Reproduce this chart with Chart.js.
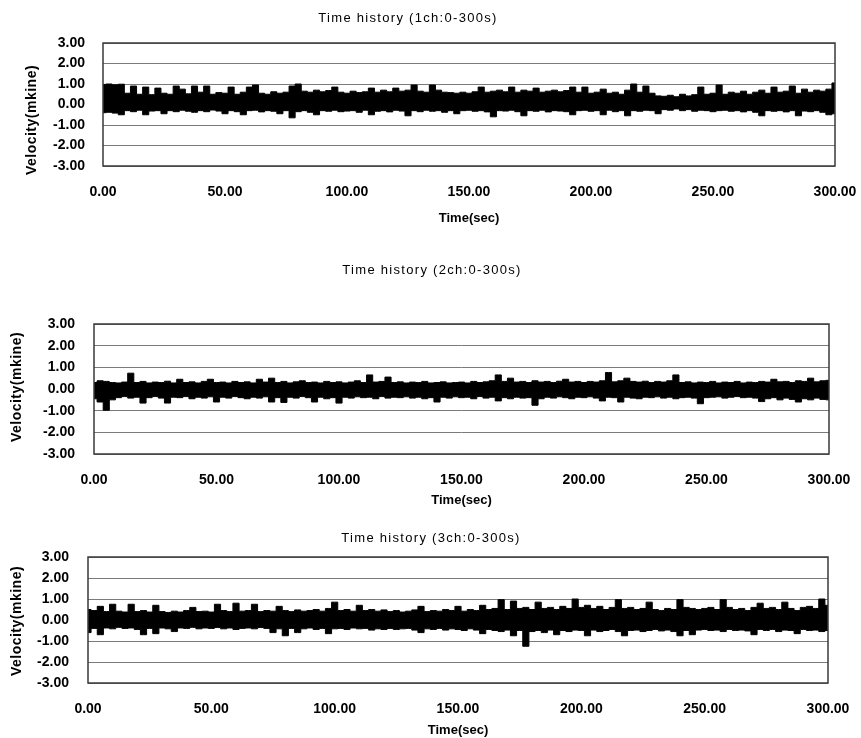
<!DOCTYPE html>
<html><head><meta charset="utf-8">
<script src="https://cdn.jsdelivr.net/npm/chart.js@4.4.0/dist/chart.umd.min.js"></script>
<style>
html,body{margin:0;padding:0;background:#fff;}
#wrap{position:relative;width:861px;height:738px;background:#fff;overflow:hidden;}
canvas{position:absolute;left:0;}
</style></head><body>
<div id="wrap">
<canvas id="c1" width="861" height="240" style="top:0px"></canvas>
<canvas id="c2" width="861" height="270" style="top:240px"></canvas>
<canvas id="c3" width="861" height="228" style="top:510px"></canvas>
</div>
<script>
// ---------- text ----------
const chartTitles = ['Time history (1ch:0-300s)', 'Time history (2ch:0-300s)', 'Time history (3ch:0-300s)'];
const yAxisTitle = 'Velocity(mkine)';
const xAxisTitle = 'Time(sec)';
// ---------- ticks ----------
const xTicks = [0, 50, 100, 150, 200, 250, 300];
const yTicks = [-3, -2, -1, 0, 1, 2, 3];
// ---------- sampling grid (s) ----------
const time = Array.from({length: 121}, (_, i) => i * 2.5);
// ---------- series: local peaks / troughs per 2.5 s window ----------
const ch1Peak = [
 0.98,1.0,0.96,0.99,0.55,0.9,0.5,0.85,0.48,0.8,
 0.55,0.5,0.9,0.75,0.52,0.9,0.6,0.9,0.5,0.58,
 0.55,0.85,0.5,0.6,0.85,0.95,0.55,0.5,0.62,0.55,
 0.6,0.9,1.0,0.65,0.6,0.7,0.62,0.68,0.85,0.6,
 0.55,0.65,0.58,0.62,0.8,0.6,0.7,0.62,0.8,0.65,
 0.7,0.95,0.65,0.6,0.95,0.7,0.6,0.58,0.55,0.6,
 0.55,0.62,0.85,0.6,0.65,0.7,0.62,0.85,0.6,0.7,
 0.65,0.8,0.6,0.65,0.7,0.62,0.68,0.85,0.6,0.85,
 0.55,0.6,0.75,0.55,0.6,0.5,0.7,1.0,0.6,0.9,
 0.55,0.42,0.4,0.45,0.38,0.5,0.42,0.48,0.85,0.5,
 0.55,0.95,0.5,0.6,0.55,0.65,0.5,0.6,0.7,0.55,
 0.85,0.6,0.65,0.9,0.55,0.75,0.6,0.7,0.65,0.75,1.05];
const ch1Trough = [
 -0.4,-0.38,-0.42,-0.5,-0.3,-0.35,-0.28,-0.5,-0.32,-0.3,
 -0.45,-0.3,-0.35,-0.28,-0.33,-0.38,-0.3,-0.35,-0.27,-0.32,
 -0.45,-0.3,-0.35,-0.5,-0.3,-0.28,-0.36,-0.3,-0.33,-0.45,
 -0.3,-0.65,-0.35,-0.3,-0.38,-0.5,-0.3,-0.33,-0.28,-0.35,
 -0.32,-0.3,-0.38,-0.28,-0.5,-0.33,-0.3,-0.36,-0.28,-0.32,
 -0.55,-0.3,-0.35,-0.28,-0.33,-0.3,-0.38,-0.3,-0.45,-0.3,
 -0.28,-0.33,-0.3,-0.36,-0.6,-0.3,-0.32,-0.28,-0.35,-0.55,
 -0.3,-0.33,-0.28,-0.36,-0.3,-0.32,-0.35,-0.5,-0.3,-0.28,
 -0.33,-0.3,-0.5,-0.28,-0.35,-0.3,-0.55,-0.3,-0.33,-0.28,
 -0.3,-0.45,-0.25,-0.28,-0.22,-0.3,-0.25,-0.33,-0.28,-0.3,
 -0.35,-0.3,-0.28,-0.33,-0.3,-0.36,-0.3,-0.38,-0.55,-0.3,
 -0.33,-0.3,-0.36,-0.3,-0.55,-0.32,-0.35,-0.3,-0.38,-0.5,-0.45];
const ch2Peak = [
 0.3,0.38,0.35,0.3,0.28,0.32,0.73,0.3,0.35,0.28,
 0.32,0.3,0.36,0.28,0.45,0.3,0.33,0.28,0.35,0.45,
 0.3,0.32,0.28,0.35,0.3,0.33,0.28,0.45,0.32,0.5,
 0.3,0.35,0.28,0.33,0.38,0.3,0.32,0.28,0.35,0.3,
 0.33,0.28,0.32,0.38,0.3,0.65,0.32,0.35,0.55,0.3,
 0.33,0.28,0.32,0.3,0.35,0.28,0.3,0.33,0.28,0.3,
 0.32,0.28,0.35,0.3,0.33,0.38,0.65,0.35,0.5,0.32,
 0.35,0.3,0.38,0.32,0.35,0.3,0.36,0.45,0.32,0.35,
 0.3,0.35,0.32,0.38,0.76,0.33,0.38,0.5,0.35,0.32,
 0.36,0.3,0.35,0.32,0.38,0.65,0.3,0.33,0.28,0.32,
 0.3,0.35,0.28,0.32,0.3,0.35,0.28,0.32,0.3,0.35,
 0.32,0.45,0.33,0.35,0.3,0.38,0.35,0.5,0.33,0.38,0.4];
const ch2Trough = [
 -0.45,-0.6,-0.98,-0.5,-0.4,-0.35,-0.42,-0.38,-0.65,-0.4,
 -0.35,-0.42,-0.65,-0.38,-0.4,-0.35,-0.45,-0.38,-0.42,-0.36,
 -0.6,-0.38,-0.42,-0.35,-0.4,-0.45,-0.38,-0.42,-0.36,-0.6,
 -0.4,-0.62,-0.38,-0.42,-0.35,-0.4,-0.6,-0.38,-0.45,-0.4,
 -0.65,-0.38,-0.42,-0.36,-0.4,-0.38,-0.45,-0.35,-0.42,-0.38,
 -0.4,-0.36,-0.42,-0.38,-0.45,-0.4,-0.6,-0.38,-0.42,-0.36,
 -0.4,-0.38,-0.45,-0.35,-0.42,-0.38,-0.55,-0.4,-0.45,-0.38,
 -0.42,-0.4,-0.75,-0.45,-0.38,-0.42,-0.36,-0.4,-0.45,-0.38,
 -0.4,-0.36,-0.42,-0.55,-0.38,-0.4,-0.6,-0.38,-0.42,-0.45,
 -0.38,-0.4,-0.36,-0.42,-0.38,-0.45,-0.4,-0.38,-0.42,-0.68,
 -0.4,-0.38,-0.36,-0.42,-0.38,-0.35,-0.4,-0.38,-0.42,-0.58,
 -0.45,-0.4,-0.5,-0.42,-0.48,-0.6,-0.45,-0.5,-0.42,-0.48,-0.5];
const ch3Peak = [
 0.5,0.45,0.65,0.4,0.75,0.42,0.38,0.75,0.4,0.45,
 0.38,0.7,0.4,0.36,0.42,0.38,0.45,0.6,0.4,0.42,
 0.38,0.75,0.45,0.4,0.8,0.42,0.45,0.75,0.4,0.45,
 0.42,0.65,0.45,0.4,0.48,0.42,0.45,0.5,0.42,0.55,
 0.85,0.45,0.5,0.42,0.7,0.45,0.5,0.42,0.48,0.4,
 0.45,0.38,0.42,0.48,0.65,0.4,0.45,0.42,0.5,0.45,
 0.65,0.42,0.5,0.45,0.7,0.5,0.55,0.97,0.5,0.9,
 0.55,0.6,0.5,0.85,0.55,0.6,0.5,0.65,0.55,1.0,
 0.6,0.7,0.55,0.65,0.5,0.6,0.97,0.55,0.6,0.5,
 0.55,0.85,0.5,0.45,0.55,0.5,0.97,0.6,0.55,0.5,
 0.55,0.6,0.5,0.97,0.6,0.5,0.55,0.45,0.6,0.8,
 0.55,0.6,0.5,0.85,0.55,0.45,0.6,0.65,0.55,1.0,0.7];
const ch3Trough = [
 -0.6,-0.4,-0.7,-0.38,-0.42,-0.35,-0.4,-0.38,-0.45,-0.7,
 -0.4,-0.65,-0.38,-0.42,-0.55,-0.38,-0.4,-0.35,-0.42,-0.38,
 -0.4,-0.36,-0.42,-0.38,-0.45,-0.4,-0.38,-0.42,-0.36,-0.4,
 -0.6,-0.42,-0.75,-0.4,-0.6,-0.42,-0.38,-0.45,-0.4,-0.65,
 -0.42,-0.4,-0.45,-0.38,-0.42,-0.4,-0.48,-0.42,-0.45,-0.4,
 -0.45,-0.42,-0.4,-0.48,-0.6,-0.42,-0.45,-0.4,-0.48,-0.42,
 -0.45,-0.5,-0.42,-0.48,-0.65,-0.45,-0.5,-0.55,-0.48,-0.75,
 -0.5,-1.25,-0.55,-0.5,-0.6,-0.48,-0.7,-0.5,-0.55,-0.48,
 -0.5,-0.75,-0.48,-0.55,-0.5,-0.45,-0.55,-0.75,-0.5,-0.48,
 -0.55,-0.5,-0.45,-0.52,-0.48,-0.55,-0.75,-0.5,-0.7,-0.48,
 -0.45,-0.5,-0.48,-0.55,-0.45,-0.5,-0.48,-0.52,-0.7,-0.45,
 -0.5,-0.45,-0.55,-0.48,-0.5,-0.65,-0.45,-0.5,-0.48,-0.55,-0.5];

// ---------- layout (canvas-local pixel positions) ----------
const layouts = [
  {id:'c1', h:240, left:103, right:835, top:43, bottom:166, titleX:408, titleY:18, yTitleX:32, yTitleY:120, xTitleY:218, yTickPad:18},
  {id:'c2', h:270, left:94, right:829, top:84, bottom:214, titleX:432, titleY:30, yTitleX:17, yTitleY:147, xTitleY:260, yTickPad:19},
  {id:'c3', h:228, left:88, right:828, top:47, bottom:173, titleX:431, titleY:28, yTitleX:17, yTitleY:111, xTitleY:220, yTickPad:19}
];
const series = [[ch1Peak, ch1Trough], [ch2Peak, ch2Trough], [ch3Peak, ch3Trough]];

const textPlugin = {
  id: 'textPlugin',
  afterDraw(chart, args, opts) {
    const ctx = chart.ctx, L = opts.L, a = chart.chartArea;
    ctx.save();
    ctx.strokeStyle = '#3a3a3a';
    ctx.lineWidth = 1.5;
    ctx.strokeRect(a.left, a.top, a.right - a.left, a.bottom - a.top);
    ctx.fillStyle = '#000';
    ctx.textAlign = 'center';
    ctx.textBaseline = 'middle';
    ctx.font = '13px "Liberation Sans", Arial, sans-serif';
    if ('letterSpacing' in ctx) ctx.letterSpacing = '1.3px';
    ctx.fillText(opts.title, L.titleX, L.titleY);
    if ('letterSpacing' in ctx) ctx.letterSpacing = '0.5px';
    ctx.font = 'bold 14px "Liberation Sans", Arial, sans-serif';
    ctx.translate(L.yTitleX, L.yTitleY);
    ctx.rotate(-Math.PI / 2);
    ctx.fillText(yAxisTitle, 0, 0);
    ctx.restore();
  }
};

layouts.forEach((L, idx) => {
  const [peak, trough] = series[idx];
  new Chart(document.getElementById(L.id), {
    type: 'line',
    data: {
      datasets: [{
        label: 'peak',
        data: time.map((t, i) => ({x: t, y: peak[i]})),
        stepped: 'middle',
        borderColor: '#000',
        borderWidth: 1,
        pointRadius: 0,
        backgroundColor: '#000',
        fill: '+1'
      }, {
        label: 'trough',
        data: time.map((t, i) => ({x: t, y: trough[i]})),
        stepped: 'middle',
        borderColor: '#000',
        borderWidth: 1,
        pointRadius: 0,
        fill: false
      }]
    },
    options: {
      responsive: false,
      animation: false,
      events: [],
      layout: {padding: {left: 0, top: L.top, right: 861 - L.right, bottom: 0}},
      plugins: {
        legend: {display: false},
        tooltip: {enabled: false},
        title: {display: false},
        filler: {propagate: false},
        textPlugin: {L: L, title: chartTitles[idx]}
      },
      scales: {
        x: {
          type: 'linear',
          min: 0, max: 300,
          afterBuildTicks: s => { s.ticks = xTicks.map(v => ({value: v})); },
          afterFit: s => { s.height = L.h - L.bottom; s.paddingLeft = 0; s.paddingRight = 0; },
          grid: {display: false, drawTicks: false},
          border: {display: false},
          ticks: {
            padding: 18, maxRotation: 0, autoSkip: false,
            color: '#000',
            font: {family: '"Liberation Sans", Arial, sans-serif', size: 14, weight: 'bold'},
            callback: v => Number(v).toFixed(2)
          },
          title: {
            display: true, text: xAxisTitle, color: '#000',
            font: {family: '"Liberation Sans", Arial, sans-serif', size: 13, weight: 'bold'},
            padding: {top: 0, bottom: L.h - L.xTitleY - 7.8}
          }
        },
        y: {
          type: 'linear',
          min: -3, max: 3,
          afterBuildTicks: s => { s.ticks = yTicks.map(v => ({value: v})); },
          afterFit: s => { s.width = L.left; s.paddingTop = 0; s.paddingBottom = 0; },
          grid: {display: true, drawTicks: false, color: '#7a7a7a', lineWidth: 1},
          border: {display: false},
          ticks: {
            padding: L.yTickPad,
            color: '#000',
            font: {family: '"Liberation Sans", Arial, sans-serif', size: 14, weight: 'bold'},
            callback: v => Number(v).toFixed(2)
          }
        }
      }
    },
    plugins: [textPlugin]
  });
});
</script>
</body></html>
